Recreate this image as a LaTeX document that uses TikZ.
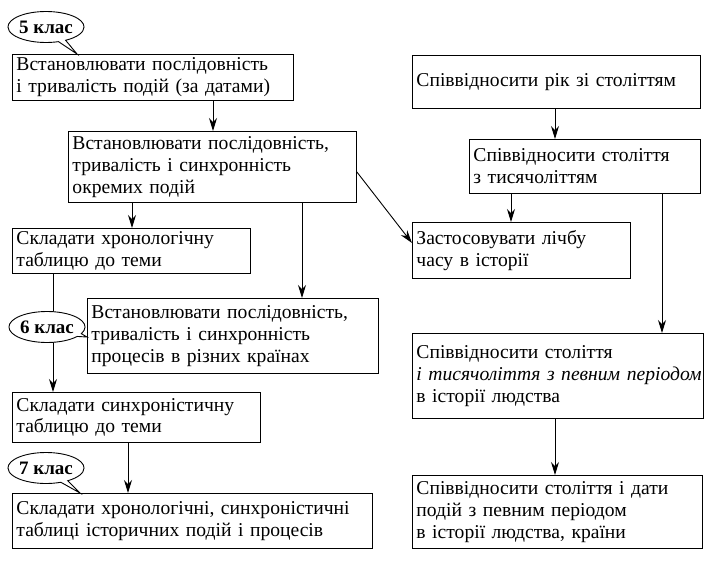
\documentclass[tikz,border=0pt]{standalone}
\usepackage{fontspec}
\setmainfont{Liberation Serif}
\usetikzlibrary{arrows.meta,shapes.callouts}
\newcommand\oneline[1]{\mbox{#1}}
\begin{document}
\begin{tikzpicture}[x=1pt,y=-1pt,
 box/.style={draw,line width=0.9pt,anchor=north west,inner xsep=4pt,inner ysep=2pt,align=left,font=\fontsize{19.6}{21.8}\selectfont},
 arr/.style={line width=0.9pt,-{Stealth[length=13pt,width=8pt]}},
 cls/.style={ellipse callout,draw,fill=white,line width=0.9pt,minimum width=72pt,minimum height=31pt,inner sep=0pt,font=\fontsize{19}{20}\selectfont\bfseries,callout pointer arc=12}]
\fill[white] (0,0) rectangle (707,562);
\useasboundingbox (0,0) rectangle (707,562);
% left column
\node[box,text width=273pt,minimum height=46pt] (b1) at (12,54) {Встановлювати послідовність\\і тривалість подій (за датами)};
\node[box,text width=280pt,minimum height=71pt] (b2) at (68,131) {Встановлювати послідовність,\\тривалість і синхронність\\окремих подій};
\node[box,text width=230pt,minimum height=45pt] (b3) at (12,228) {Складати хронологічну\\таблицю до теми};
\node[box,text width=283pt,minimum height=75pt] (b4) at (87,298) {Встановлювати послідовність,\\тривалість і синхронність\\процесів в різних країнах};
\node[box,text width=240pt,minimum height=50pt] (b5) at (12,392) {Складати синхроністичну\\таблицю до теми};
\node[box,text width=352pt,minimum height=55pt] (b6) at (12,493) {Складати хронологічні, синхроністичні\\таблиці історичних подій і процесів};
% right column
\node[box,text width=280pt,minimum height=53pt] (b7) at (412,55) {Співвідносити рік зі століттям};
\node[box,text width=223pt,minimum height=54pt] (b8) at (469,139) {Співвідносити століття\\з тисячоліттям};
\node[box,text width=210pt,minimum height=56pt] (b9) at (412,222) {Застосовувати лічбу\\часу в історії};
\node[box,text width=283pt,minimum height=85pt] (b10) at (412,333) {Співвідносити століття\\\oneline{\textit{і тисячоліття з певним періодом}}\\в історії людства};
\node[box,text width=282pt,minimum height=73pt] (b11) at (412,475) {Співвідносити століття і дати\\подій з певним періодом\\в історії людства, країни};
% connectors
\draw[arr] (213,0 |- b1.south) -- (213,0 |- b2.north);
\draw[arr] (132,0 |- b2.south) -- (132,0 |- b3.north);
\draw[arr] (302,0 |- b2.south) -- (302,0 |- b4.north);
\draw[arr] (b2.east |- 0,172) -- (b9.west |- 0,243);
\draw[arr] (53,0 |- b3.south) -- (53,0 |- b5.north);
\draw[arr] (128,0 |- b5.south) -- (128,0 |- b6.north);
\draw[arr] (555,0 |- b7.south) -- (555,0 |- b8.north);
\draw[arr] (511,0 |- b8.south) -- (511,0 |- b9.north);
\draw[arr] (662,0 |- b8.south) -- (662,0 |- b10.north);
\draw[arr] (555,0 |- b10.south) -- (555,0 |- b11.north);
% class bubbles
\coordinate (p5) at (77,54);
\coordinate (p6) at (87,337);
\coordinate (p7) at (80,493);
\node[cls,callout absolute pointer={(p5)}] (c5) at (46,27) {5 клас};
\node[cls,callout absolute pointer={(p6)}] (c6) at (47,327) {6 клас};
\node[cls,callout absolute pointer={(p7)}] (c7) at (46,468) {7 клас};
\end{tikzpicture}
\end{document}
